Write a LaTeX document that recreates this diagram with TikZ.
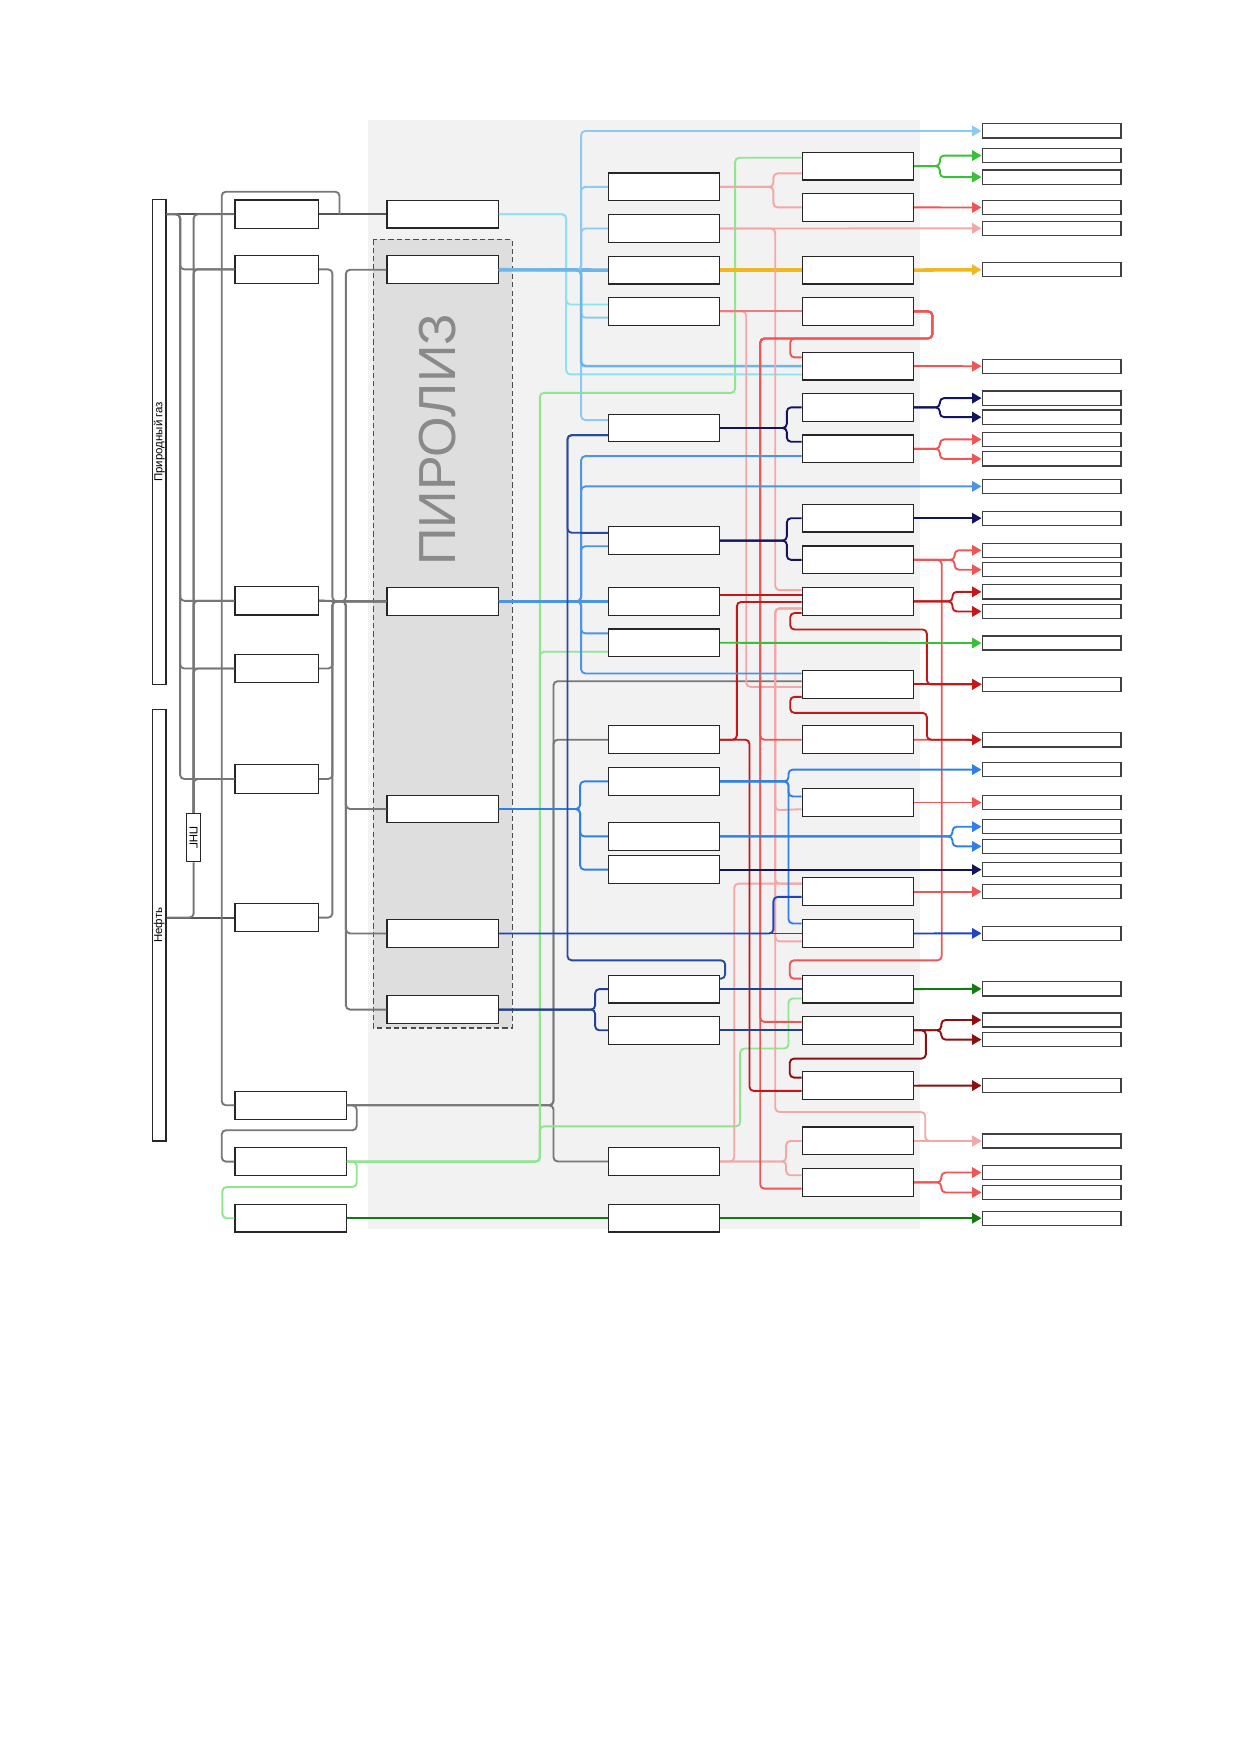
\documentclass[tikz,border=0pt]{standalone}
\usepackage{fontspec}
\setmainfont{Liberation Sans}
\usepackage{graphicx}
\usepackage{tikz}
\usetikzlibrary{arrows.meta,calc}

\definecolor{cBg}{HTML}{F2F2F2}
\definecolor{cPyr}{HTML}{DEDEDE}
\definecolor{cPyrTxt}{HTML}{8A8A8A}
\definecolor{cGray}{HTML}{777777}
\definecolor{cGrayK}{HTML}{555555}
\definecolor{cLGreen}{HTML}{8FE68F}
\definecolor{cDGreen}{HTML}{117A11}
\definecolor{cGreen}{HTML}{39BF39}
\definecolor{cCyan}{HTML}{8BE3EE}
\definecolor{cLBlue}{HTML}{8CCAF2}
\definecolor{cLBlueT}{HTML}{6DB5E8}
\definecolor{cBlue3}{HTML}{4C94E4}
\definecolor{cBlue2}{HTML}{2F7FE6}
\definecolor{cNavy}{HTML}{13135F}
\definecolor{cNavy2}{HTML}{24418F}
\definecolor{cRoyal}{HTML}{1D45C2}
\definecolor{cRoyal2}{HTML}{2A4A9E}
\definecolor{cGold}{HTML}{F0B81E}
\definecolor{cLPink}{HTML}{F3A7A7}
\definecolor{cSalmon}{HTML}{EC7C7C}
\definecolor{cRed}{HTML}{EF5555}
\definecolor{cDRed}{HTML}{C41717}
\definecolor{cMaroon}{HTML}{8C1010}

\tikzset{
  box/.style={draw=black!85, fill=white, line width=0.6pt, minimum width=53.3pt, minimum height=13.3pt, inner sep=0pt},
  abox/.style={box, minimum width=40pt, minimum height=13.6pt},
  wbox/.style={box, minimum width=53.3pt},
  rbox/.style={draw=black!75, fill=white, line width=0.6pt, minimum width=66.6pt, minimum height=6.8pt, inner sep=0pt},
  bar/.style={draw=black!85, fill=white, line width=0.6pt, minimum width=6.6pt, inner sep=0pt, font=\fontsize{5.5}{6}\selectfont},
  ln/.style={line width=0.9pt, rounded corners=2pt},
  arr/.style={-{Triangle[length=4.5pt,width=5pt]}},
  feed/.style={ln, draw=cGray},
  feedk/.style={ln, draw=cGrayK, line width=1pt},
  lgr/.style={ln, draw=cLGreen},
  dgr/.style={ln, draw=cDGreen},
  grn/.style={ln, draw=cGreen},
  cyn/.style={ln, draw=cCyan},
  lbl/.style={ln, draw=cLBlue},
  bl3/.style={ln, draw=cBlue3},
  bl2/.style={ln, draw=cBlue2},
  nvy/.style={ln, draw=cNavy},
  nv2/.style={ln, draw=cNavy2},
  ryb/.style={ln, draw=cRoyal},
  ryl/.style={ln, draw=cRoyal2},
  gld/.style={ln, draw=cGold, line width=1.7pt},
  lpk/.style={ln, draw=cLPink},
  slm/.style={ln, draw=cSalmon},
  rd/.style={ln, draw=cRed},
  drd/.style={ln, draw=cDRed},
  mrn/.style={ln, draw=cMaroon}
}

\begin{document}
\begin{tikzpicture}[x=0.5368pt, y=-0.5368pt]
    \useasboundingbox (0,0) rectangle (1109,1568);

    % фон и блок пиролиза
    \fill[cBg] (328.6,107.2) rectangle (822.2,1097.7);
    \draw[fill=cPyr, draw=black!70, line width=0.6pt, dash pattern=on 2.5pt off 1.5pt]
        (333.6,213.9) rectangle (457.8,918.4);
    \node[rotate=90, text=cPyrTxt, font=\fontsize{25}{30}\selectfont] (pyrtxt) at (391,393) {ПИРОЛИЗ};

    % сырьё
    \node[bar, minimum height=232.5pt] (gas) at (142.25,394.7) {\rotatebox{90}{Природный газ}};
    \node[bar, minimum height=206.9pt] (oil) at (142.25,826.65) {\rotatebox{90}{Нефть}};
    \node[bar, minimum width=6.7pt, minimum height=23.2pt] (png) at (173,748.4) {\rotatebox{-90}{ПНГ}};

    % блоки
    \foreach \n/\y in {1/191.4, 2/240.7, 3/536.8, 4/597.3, 5/696, 6/819.8}
        \node[abox] (a\n) at (247.2,\y) {};
    \foreach \n/\y in {7/987.5, 8/1037.8, 9/1088.4}
        \node[wbox] (a\n) at (259.6,\y) {};
    \foreach \n/\y in {1/191.4, 2/241, 3/537.3, 4/722.8, 5/834, 6/902}
        \node[box] (b\n) at (395.5,\y) {};
    \foreach \n/\y in {1/167, 2/204.2, 3/241.3, 4/278.2, 5/382.4, 6/483, 7/537.3, 8/574.3,
                       9/660.9, 10/698.1, 11/747.3, 12/777, 13/883.7, 14/920.5, 15/1037.7, 16/1088.4}
        \node[box] (c\n) at (593.2,\y) {};
    \foreach \n/\y in {1/148.4, 2/185.3, 3/241.3, 4/278.2, 5/327.1, 6/364, 7/401, 8/463, 9/500.2, 10/537.3,
                       11/611.4, 12/660.9, 13/717, 14/796.7, 15/834, 16/883.7, 17/920.5, 18/970, 19/1019.4, 20/1056.4}
        \node[box] (d\n) at (766.5,\y) {};
    \foreach \n/\y in {1/117, 2/139, 3/158.2, 4/185.4, 5/204, 6/241, 7/327.2, 8/355.7, 9/372.7, 10/392.6,
                       11/410, 12/434.6, 13/463, 14/491.7, 15/509, 16/528.8, 17/546.3, 18/574.5, 19/611.4, 20/661,
                       21/687.6, 22/717, 23/738.6, 24/756.2, 25/777, 26/796.7, 27/833.9, 28/883.5, 29/911.3, 30/928.8,
                       31/969.9, 32/1019.4, 33/1047.6, 34/1065.4, 35/1088.4}
        \node[rbox] (r\n) at (939.5,\y) {};

    % природный газ, нефть, ПНГ
    \draw[feedk] (gas.east |- a1.west) -- (a1.west);
    \draw[feedk] (a1.east) -- (b1.west);
    \foreach \t in {a2,a3,a4,a5}
        \draw[feed] (gas.east |- a1.west) -- (160.9,191.4) |- (\t.west);
    \draw[feedk] (oil.east |- a6.west) -- (a6.west);
    \draw[feed] (oil.east |- a6.west) -| (png.south);
    \foreach \t in {a1,a2,a3,a4,a5}
        \draw[feed] (png.north) |- (\t.west);

    % в пиролиз
    \draw[feed] (a3.east) -- (b3.west);
    \foreach \t in {a2,a4,a5,a6}
        \draw[feed] (\t.east) -| (297,537.3) -- (b3.west);
    \foreach \t in {b2,b4,b5,b6}
        \draw[feed] (a3.east) -- (309,537.3) |- (\t.west);

    % нижние блоки
    \draw[feed] (a7.west) -| (198.1,171.3) -| (303.3,191.4);
    \draw[feed] (a7.east) -| (318.7,1009.8) -| (198.1,1037.8) -- (a8.west);
    \draw[feed] (a7.east) -- (494.5,987.5) |- ([yshift=1.5pt]d11.west);
    \draw[feed] (a7.east) -- (494.5,987.5) |- (c9.west);
    \draw[feed] (a7.east) -- (494.5,987.5) |- (c15.west);

    \draw[lgr] (a8.east) -| (318.7,1060.5) -| (198.7,1088.4) -- (a9.west);
    \draw[lgr] (a8.east) -- (482.3,1037.8) |- (656.8,351) |- ([yshift=4pt]d1.west);
    \draw[lgr] (a8.east) -- (482.3,1037.8) |- ([yshift=-4.3pt]c8.west);
    \draw[lgr] (a8.east) -- (482.3,1037.8) |- (661.3,1006.3) |- (704.5,936.8) |- ([yshift=-4.5pt]d16.west);

    \draw[dgr] (a9.east) -- (c16.west);
    \draw[dgr,arr] (c16.east) -- (r35.west);
    \draw[dgr,arr] (d16.east) -- (r28.west);

    % верх: голубые линии
    \draw[cyn] (b1.east) -| (505.8,272) -- ([yshift=3.3pt]c4.west);
    \draw[cyn] (b1.east) -| (505.8,334.5) -- ([yshift=-4pt]d5.west);
    \draw[lbl, draw=cLBlueT, line width=1.7pt] (b2.east) -- (c3.west);
    \foreach \t in {c1,c2}
        \draw[lbl] (b2.east) -- (519.2,241.3) |- (\t.west);
    \draw[lbl,arr] (b2.east) -- (519.2,241.3) |- (r1.west);
    \draw[lbl] (b2.east) -- (519.2,241.3) |- ([yshift=-3pt]c4.west);
    \draw[lbl] (b2.east) -- (519.2,241.3) |- ([yshift=3.8pt]c5.west);
    \draw[lbl, draw=cLBlueT, line width=1.3pt] (b2.east) -- (519.2,241.3) |- (d5.west);

    \draw[gld] (c3.east) -- (d3.west);
    \draw[gld,arr] (d3.east) -- (r6.west);

    % розовые
    \draw[lpk] (c1.east) -- (691,167) |- ([yshift=-3.5pt]d1.west);
    \draw[lpk] (c1.east) -- (691,167) |- (d2.west);
    \draw[lpk,arr] (c2.east) -- (r5.west);
    \draw[lpk] (c2.east) -- (692.6,204.2) |- ([yshift=5.4pt]d10.west);
    \draw[lpk] (c4.east) -- (666.7,278.2) |- ([yshift=-1.2pt]d11.west);
    \draw[lpk] ([yshift=-3.4pt]d10.west) -| (692.6,723.9) -- ([yshift=-3.2pt]d13.west);
    \draw[lpk] ([yshift=-3.4pt]d10.west) -| (692.6,789.4) -- ([yshift=3.9pt]d14.west);
    \draw[lpk] ([yshift=-3.4pt]d10.west) -| (692.6,841) -- ([yshift=-3.8pt]d15.west);
    \draw[lpk,arr] ([yshift=-3.4pt]d10.west) -| (692.6,993.5) -| (826.6,1019.4) -- (r32.west);
    \draw[lpk,arr] (d19.east) -- (r32.west);
    \draw[lpk] (c15.east) -- (702.4,1037.7) |- (d19.west);
    \draw[lpk] (c15.east) -- (702.4,1037.7) |- ([yshift=3.4pt]d20.west);
    \draw[lpk] (c15.east) -- (656,1037.7) |- ([yshift=3.9pt]d14.west);

    % красные
    \draw[slm] (c4.east) -- (d4.west);
    \draw[rd] (d4.east) -| (833,302.4) -| (706,319.3) -- ([yshift=4.2pt]d5.west);
    \draw[rd] (d4.east) -| (833,302.4) -| (679.2,660.9) -- (d12.west);
    \draw[rd] (d4.east) -| (833,302.4) -| (679.2,913) -- ([yshift=4pt]d17.west);
    \draw[rd] (d4.east) -| (833,302.4) -| (679.2,1062) -- ([yshift=-3pt]d20.west);
    \draw[rd,arr] (d2.east) -- (r4.west);
    \draw[rd,arr] (d5.east) -- (r7.west);
    \foreach \t in {r10,r11}
        \draw[rd,arr] (d7.east) -- (839.7,401) |- (\t.west);
    \foreach \t in {r14,r15}
        \draw[rd,arr] (d9.east) -- (852.9,500.2) |- (\t.west);
    \draw[rd] (d9.east) -- (841.4,500.2) |- (705.6,858) |- ([yshift=5pt]d16.west);
    \draw[rd,arr] (d12.east) -- (r20.west);
    \draw[rd,arr] (d13.east) -- (r22.west);
    \draw[rd,arr] (d14.east) -- (r26.west);
    \foreach \t in {r33,r34}
        \draw[rd,arr] (d20.east) -- (841,1056.4) |- (\t.west);

    \draw[drd] ([yshift=3pt]c7.east) -- ([yshift=3pt]d10.west);
    \draw[drd] (c9.east) -- (658.3,660.9) |- ([yshift=-0.3pt]d10.west);
    \draw[drd] (c9.east) -- (669.6,660.9) |- ([yshift=-2.5pt]d18.west);
    \foreach \t in {r16,r17}
        \draw[drd,arr] (d10.east) -- (851,537.3) |- (\t.west);
    \draw[drd,arr] ([yshift=-5.6pt]d10.west) -| (706,562.4) -| (828.1,611.4) -- (r19.west);
    \draw[drd,arr] (d11.east) -- (r19.west);
    \draw[drd,arr] ([yshift=-6pt]d11.west) -| (706,636.9) -| (828.1,660.9) -- (r20.west);

    \foreach \t in {r29,r30}
        \draw[mrn,arr] (d17.east) -- (841,920.5) |- (\t.west);
    \draw[mrn] (d17.east) -- (827.2,920.5) |- (705.6,945.8) |- ([yshift=3.9pt]d18.west);
    \draw[mrn,arr] (d18.east) -- (r31.west);

    % зелёные
    \foreach \t in {r2,r3}
        \draw[grn,arr] (d1.east) -- (839.7,148.4) |- (\t.west);
    \draw[grn,arr] (c8.east) -- (r18.west);

    % синие
    \draw[bl3, line width=1.3pt] (b3.east) -- (c7.west);
    \draw[bl3] (b3.east) -- (519.2,537.3) |- ([yshift=-2.7pt]c6.west);
    \draw[bl3,arr] (b3.east) -- (519.2,537.3) |- (r12.west);
    \draw[bl3] (b3.east) -- (519.2,537.3) |- ([yshift=-3.5pt]d7.west);
    \draw[bl3] (b3.east) -- (519.2,537.3) |- ([yshift=4.5pt]c8.west);
    \draw[bl3] (b3.east) -- (519.2,537.3) |- ([yshift=5.2pt]d11.west);

    \foreach \t in {c10,c11,c12}
        \draw[bl2] (b4.east) -- (518.3,722.8) |- (\t.west);
    \draw[bl2,arr] (c10.east) -- (704.5,698.1) |- (r21.west);
    \draw[bl2] (c10.east) -- (704.5,698.1) |- ([yshift=2.9pt]d13.west);
    \draw[bl2] (c10.east) -- (704.5,698.1) |- ([yshift=4.8pt]d15.west);
    \foreach \t in {r23,r24}
        \draw[bl2,arr] (c11.east) -- (851,747.3) |- (\t.west);

    \draw[nvy] (c5.east) -- (703,382.4) |- (d6.west);
    \draw[nvy] (c5.east) -- (703,382.4) |- ([yshift=3.4pt]d7.west);
    \draw[nvy] (c6.east) -- (703,483) |- (d8.west);
    \draw[nvy] (c6.east) -- (703,483) |- (d9.west);
    \foreach \t in {r8,r9}
        \draw[nvy,arr] (d6.east) -- (839.7,364) |- (\t.west);
    \draw[nvy,arr] (d8.east) -- (r13.west);
    \draw[nvy,arr] (c12.east) -- (r25.west);

    \draw[ryl] ([yshift=-3.4pt]c5.west) -| (507,858) -| (647.9,874.3) -- ([yshift=5pt]c13.east);
    \draw[ryl] ([yshift=-3.4pt]c5.west) -| (507,476) -- ([yshift=3.7pt]c6.west);
    \draw[ryb] (b5.east) -- (d15.west);
    \draw[ryb] (b5.east) -- (691,834) |- ([yshift=-2.5pt]d14.west);
    \draw[ryb,arr] (d15.east) -- (r27.west);
    \foreach \t in {c13,c14}
        \draw[nv2] (b6.east) -- (531.7,902) |- (\t.west);
    \draw[nv2] (c13.east) -- (d16.west);
    \draw[nv2] (c14.east) -- (d17.west);
\end{tikzpicture}
\end{document}
